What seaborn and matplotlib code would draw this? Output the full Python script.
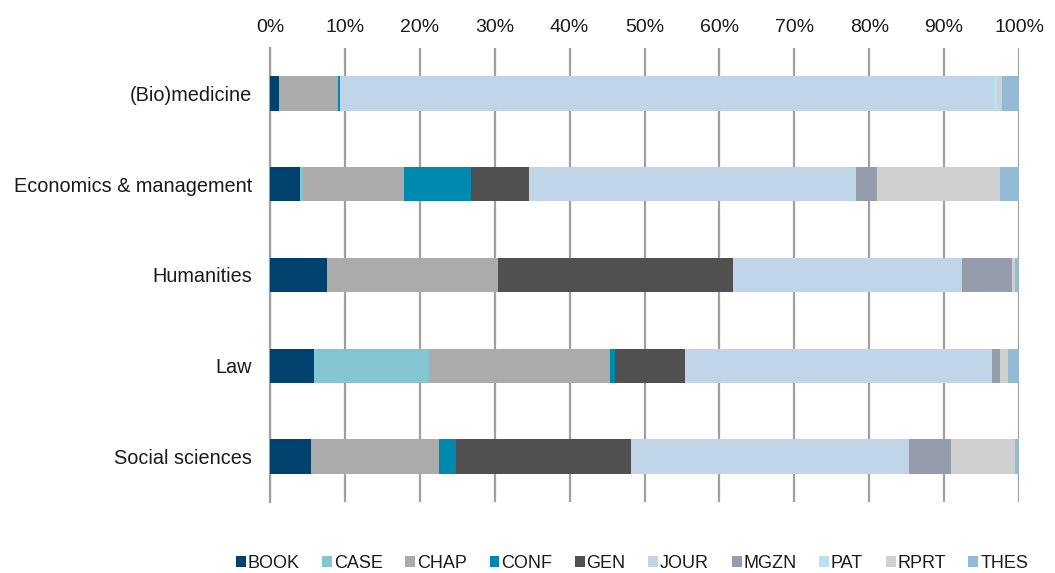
import matplotlib
matplotlib.use("Agg")
import matplotlib.pyplot as plt
import seaborn as sns
import pandas as pd
import numpy as np
from matplotlib.patches import Patch

categories = ["(Bio)medicine", "Economics & management", "Humanities", "Law", "Social sciences"]
series_names = ["BOOK", "CASE", "CHAP", "CONF", "GEN", "JOUR", "MGZN", "PAT", "RPRT", "THES"]

BOOK = [1.2, 4.0, 7.6, 5.9, 5.5]
CASE = [0.0, 0.4, 0.0, 15.3, 0.0]
CHAP = [7.9, 13.5, 22.8, 24.2, 17.1]
CONF = [0.3, 8.9, 0.0, 0.7, 2.2]
GEN = [0.0, 7.8, 31.4, 9.3, 23.4]
JOUR = [87.3, 43.5, 30.6, 41.0, 37.1]
MGZN = [0.0, 2.8, 6.7, 1.0, 5.6]
PAT = [0.3, 0.0, 0.0, 0.0, 0.0]
RPRT = [0.7, 16.4, 0.4, 1.1, 8.6]
THES = [2.3, 2.6, 0.5, 1.5, 0.5]

colors = ["#00426E", "#84C5D3", "#ABABAB", "#0089AF", "#505050",
          "#C0D6E8", "#959CAB", "#B8E2EE", "#D0D0D0", "#94BBD5"]

sns.set_style("white")
plt.rcParams["font.family"] = ["Liberation Sans", "DejaVu Sans"]

df = pd.DataFrame({"category": categories, "BOOK": BOOK, "CASE": CASE, "CHAP": CHAP,
                   "CONF": CONF, "GEN": GEN, "JOUR": JOUR, "MGZN": MGZN, "PAT": PAT,
                   "RPRT": RPRT, "THES": THES})
vals = df[series_names]
totals = vals.sum(axis=1)
pct = vals.div(totals, axis=0) * 100
cum = pct.cumsum(axis=1)

fig = plt.figure(figsize=(10.55, 5.73), dpi=100)
ax = fig.add_axes([270 / 1055, 1 - 502 / 573, (1019 - 270) / 1055, (502 - 48) / 573])

for i in range(len(series_names) - 1, -1, -1):
    name = series_names[i]
    d = pd.DataFrame({"category": categories, "value": cum[name].values})
    sns.barplot(data=d, x="value", y="category", orient="h", color=colors[i],
                width=0.38, ax=ax, saturation=1, linewidth=0, zorder=3)

ax.set_xlim(0, 100)
ax.set_ylim(4.5, -0.5)
ax.set_xticks(np.arange(0, 101, 10))
ax.set_xticklabels([f"{v}%" for v in range(0, 101, 10)])
ax.xaxis.tick_top()
ax.xaxis.set_label_position("top")
ax.set_xlabel("")
ax.set_ylabel("")
ax.grid(axis="x", color="#A0A0A0", linewidth=1.6, zorder=0)
ax.set_axisbelow(True)
ax.tick_params(axis="x", length=0, labelsize=14, labelcolor="#1a1a1a", pad=9)
ax.tick_params(axis="y", which="major", length=0, labelsize=14.3, labelcolor="#1a1a1a", pad=13)
ax.set_yticks(np.arange(-0.5, 4.6, 1.0), minor=True)
ax.tick_params(axis="y", which="minor", length=5, width=1.6, color="#A0A0A0", direction="out")
for s in ["top", "right", "bottom"]:
    ax.spines[s].set_visible(False)
ax.spines["left"].set_color("#A0A0A0")
ax.spines["left"].set_linewidth(1.6)

handles = [Patch(facecolor=c, edgecolor="none") for c in colors]
fig.legend(handles, series_names, loc="center", bbox_to_anchor=(0.599, 1 - 563 / 573),
           ncol=10, frameon=False, fontsize=13, handlelength=0.55, handleheight=0.55,
           handletextpad=0.1, columnspacing=1.25, labelcolor="#1a1a1a",
           borderpad=0.1)

fig.savefig("out.png", dpi=100)
